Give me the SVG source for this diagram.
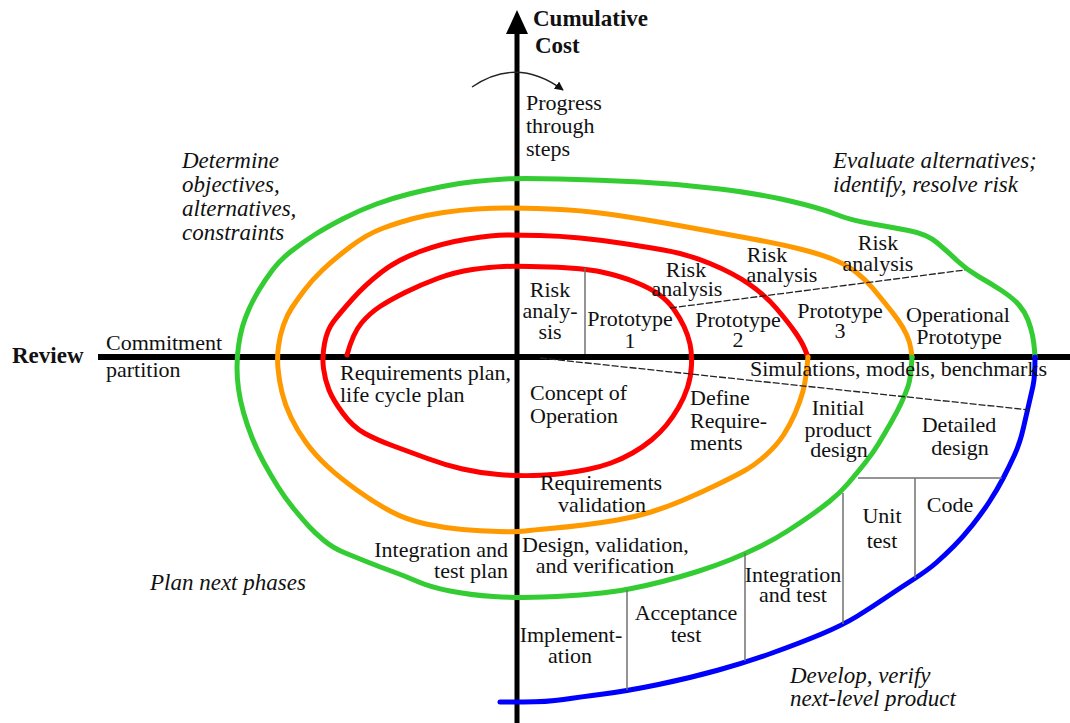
<svg xmlns="http://www.w3.org/2000/svg" width="1070" height="723" viewBox="0 0 1070 723">
  <style>
    text { font-family: "Liberation Serif", "Times New Roman", serif; font-size: 22px; fill: #111; }
    .b { font-weight: bold; font-size: 23px; }
    .i { font-style: italic; font-size: 23px; }
    .m { text-anchor: middle; }
    .e { text-anchor: end; }
    .lap { fill: none; stroke-width: 5; stroke-linejoin: round; stroke-linecap: round; }
    .div { fill: none; stroke: #707070; stroke-width: 1.5; }
    .dash { fill: none; stroke: #222; stroke-width: 1.3; stroke-dasharray: 7 2; }
  </style>
  <defs>
    <marker id="head" viewBox="0 0 10 10" refX="9" refY="5" markerWidth="9" markerHeight="9" orient="auto" markerUnits="userSpaceOnUse">
      <path d="M0,0 L10,5 L0,10 z" fill="#111"/>
    </marker>
  </defs>
  <rect width="1070" height="723" fill="#fff"/>

  <!-- axes -->
  <g id="axes">
    <line x1="98" y1="357" x2="1070" y2="357" stroke="#000" stroke-width="6"/>
    <line x1="517" y1="28" x2="517" y2="723" stroke="#000" stroke-width="5"/>
    <polygon points="517,10 506,34 528,34" fill="#000"/>
    <path d="M472,87 Q517,56 563,90" fill="none" stroke="#222" stroke-width="1.4" marker-end="url(#head)"/>
  </g>

  <!-- spiral laps (smoothed through midpoints) -->
  <g id="connectors">
    <path id="lap-red" class="lap" stroke="#ff0000" d="M347,355 Q353,333 361.5,323 Q370,313 380,306.5 Q390,300 405,292.5 Q420,285 437.5,278.5 Q455,272 472.5,269.5 Q490,267 503.5,266.5 Q517,266 550,267 Q583,268 601.5,272 Q620,276 635,282 Q650,288 659,294.5 Q668,301 674,309.5 Q680,318 684,326.5 Q688,335 690,344 Q692,353 691.5,365 Q691,377 687.5,387.5 Q684,398 678.5,407.5 Q673,417 666.5,425 Q660,433 651.5,440 Q643,447 632.5,453 Q622,459 611,463 Q600,467 587.5,469.5 Q575,472 562.5,473.5 Q550,475 533.5,475.5 Q517,476 498.5,474.5 Q480,473 462.5,469 Q445,465 427.5,458.5 Q410,452 393.5,446 Q377,440 365,433.5 Q353,427 343,413.5 Q333,400 329,390 Q325,380 323.5,368.5 Q322,357 324.5,343.5 Q327,330 333.5,321.5 Q340,313 352.5,299 Q365,285 381,272.5 Q397,260 420,251.5 Q443,243 468,239 Q493,235 506.5,235 Q520,235 540,235.5 Q560,236 580,238 Q600,240 620,243 Q640,246 663.5,250 Q687,254 710,263.5 Q733,273 749,284 Q765,295 776.5,308.5 Q788,322 795,332 Q802,342 805,349.5 L808,357"/>
    <path id="lap-orange" class="lap" stroke="#ff9900" d="M808,357 Q806,380 803,391 Q800,402 795,413.5 Q790,425 783.5,435 Q777,445 766,455 Q755,465 744,471 Q733,477 716.5,485 Q700,493 683.5,500 Q667,507 651,512 Q635,517 617.5,520 Q600,523 583.5,525 Q567,527 550,528.5 Q533,530 525,531 Q517,532 498.5,531.5 Q480,531 462.5,529.5 Q445,528 426,524 Q407,520 391,511.5 Q375,503 357.5,490.5 Q340,478 327.5,466.5 Q315,455 306,442.5 Q297,430 291,417.5 Q285,405 282,392.5 Q279,380 278,368.5 Q277,357 278.5,346 Q280,335 283.5,325 Q287,315 292,307.5 Q297,300 304.5,290 Q312,280 322.5,270 Q333,260 350,247 Q367,234 383.5,228 Q400,222 413.5,218.5 Q427,215 443.5,212.5 Q460,210 476.5,209 Q493,208 506.5,208 Q520,208 550,209 Q580,210 611.5,214.5 Q643,219 681.5,226 Q720,233 750,238.5 Q780,244 800,249 Q820,254 833.5,259.5 Q847,265 856.5,272.5 Q866,280 873,288.5 Q880,297 886.5,305 Q893,313 898,320 Q903,327 906.5,334.5 Q910,342 911,349.5 L912,357"/>
    <path id="lap-green" class="lap" stroke="#33cc33" d="M912,357 Q911,378 908,386.5 Q905,395 901,403.5 Q897,412 891,422.5 Q885,433 879,443 Q873,453 865,463 Q857,473 848.5,483 Q840,493 830,501 Q820,509 810,516 Q800,523 787.5,531 Q775,539 761,546 Q747,553 731,559.5 Q715,566 697.5,571.5 Q680,577 662.5,581.5 Q645,586 629,589 Q613,592 591.5,594 Q570,596 543.5,597 Q517,598 493.5,596.5 Q470,595 450,591 Q430,587 417.5,581.5 Q405,576 392.5,571.5 Q380,567 367.5,562 Q355,557 344,552.5 Q333,548 324,540.5 Q315,533 309,526.5 Q303,520 294,509 Q285,498 277.5,486 Q270,474 263.5,462 Q257,450 252,437.5 Q247,425 243.5,412.5 Q240,400 238.5,389 Q237,378 237,367.5 Q237,357 238.5,346 Q240,335 242.5,326.5 Q245,318 249,309 Q253,300 259,290 Q265,280 272.5,270 Q280,260 291.5,251 Q303,242 315,234.5 Q327,227 343.5,218.5 Q360,210 376.5,204 Q393,198 409,194 Q425,190 442.5,186.5 Q460,183 475,181.5 Q490,180 505,179 Q520,178 560,179 Q600,180 640,182 Q680,184 720,189 Q760,194 790,201 Q820,208 835,214 Q850,220 870,223.5 Q890,227 908.5,230.5 Q927,234 937.5,243 Q948,252 957.5,261 Q967,270 978.5,276.5 Q990,283 1001.5,290.5 Q1013,298 1019,305 Q1025,312 1028,320 Q1031,328 1032.5,335.5 Q1034,343 1034.5,350 L1035,357"/>
    <path id="lap-blue" class="lap" stroke="#0000ff" d="M1035,357 Q1035,377 1033,386 Q1031,395 1029,403.5 Q1027,412 1023.5,427.5 Q1020,443 1014.5,455 Q1009,467 1003,478.5 Q997,490 989.5,501.5 Q982,513 972.5,525 Q963,537 954,546 Q945,555 936.5,562.5 Q928,570 914,579 Q900,588 886,597.5 Q872,607 857.5,616 Q843,625 821.5,634 Q800,643 773.5,652.5 Q747,662 718.5,670 Q690,678 658.5,684.5 Q627,691 603.5,694 Q580,697 563.5,699.5 Q547,702 523.5,702 L500,702"/>
  </g>

  <!-- sector dividers -->
  <g id="dividers">
    <line class="div" x1="585" y1="268" x2="585" y2="354"/>
    <line class="dash" x1="670" y1="308" x2="965" y2="270"/>
    <line class="dash" x1="540" y1="358" x2="1030" y2="410"/>
    <line class="div" x1="858" y1="478" x2="1002" y2="478"/>
    <line class="div" x1="915" y1="478" x2="915" y2="578"/>
    <line class="div" x1="843" y1="493" x2="843" y2="624"/>
    <line class="div" x1="745" y1="553" x2="745" y2="661"/>
    <line class="div" x1="627" y1="590" x2="627" y2="690"/>
  </g>

  <!-- axis captions -->
  <g id="axis-labels">
    <text class="b" x="533" y="26">Cumulative</text>
    <text class="b" x="535" y="53">Cost</text>
    <text x="526" y="110">Progress</text>
    <text x="526" y="133">through</text>
    <text x="526" y="156">steps</text>
    <text class="b" x="12" y="363">Review</text>
    <text x="106" y="350">Commitment</text>
    <text x="106" y="377">partition</text>
  </g>

  <!-- quadrant headings -->
  <g id="quadrants">
    <text class="i" x="182" y="168">Determine</text>
    <text class="i" x="182" y="192">objectives,</text>
    <text class="i" x="182" y="216">alternatives,</text>
    <text class="i" x="182" y="240">constraints</text>
    <text class="i" x="833" y="168">Evaluate alternatives;</text>
    <text class="i" x="833" y="192">identify, resolve risk</text>
    <text class="i" x="150" y="590">Plan next phases</text>
    <text class="i" x="790" y="683">Develop, verify</text>
    <text class="i" x="790" y="706">next-level product</text>
  </g>

  <!-- risk / prototype sectors -->
  <g id="risk-sectors">
    <text class="m" x="550" y="297">Risk</text>
    <text class="m" x="550" y="318">analy-</text>
    <text class="m" x="550" y="339">sis</text>
    <text class="m" x="630" y="326">Prototype</text>
    <text class="m" x="630" y="348">1</text>
    <text class="m" x="686" y="277">Risk</text>
    <text class="m" x="687" y="296">analysis</text>
    <text class="m" x="738" y="327">Prototype</text>
    <text class="m" x="738" y="347">2</text>
    <text class="m" x="767" y="262">Risk</text>
    <text class="m" x="782" y="282">analysis</text>
    <text class="m" x="840" y="318">Prototype</text>
    <text class="m" x="840" y="338">3</text>
    <text class="m" x="878" y="250">Risk</text>
    <text class="m" x="878" y="271">analysis</text>
    <text class="m" x="958" y="322">Operational</text>
    <text class="m" x="959" y="344">Prototype</text>
  </g>

  <!-- development sectors -->
  <g id="dev-sectors">
    <text x="750" y="376">Simulations, models, benchmarks</text>
    <text x="340" y="380">Requirements plan,</text>
    <text x="340" y="402">life cycle plan</text>
    <text x="530" y="400">Concept of</text>
    <text x="530" y="423">Operation</text>
    <text x="690" y="405">Define</text>
    <text x="690" y="428">Require-</text>
    <text x="690" y="450">ments</text>
    <text class="m" x="601" y="490">Requirements</text>
    <text class="m" x="602" y="512">validation</text>
    <text class="m" x="838" y="415">Initial</text>
    <text class="m" x="838" y="437">product</text>
    <text class="m" x="839" y="457">design</text>
    <text class="m" x="959" y="432">Detailed</text>
    <text class="m" x="960" y="455">design</text>
    <text class="m" x="950" y="512">Code</text>
    <text class="m" x="882" y="523">Unit</text>
    <text class="m" x="882" y="548">test</text>
    <text class="e" x="508" y="557">Integration and</text>
    <text class="e" x="508" y="578">test plan</text>
    <text x="522" y="552">Design, validation,</text>
    <text class="m" x="605" y="573">and verification</text>
    <text class="m" x="793" y="582">Integration</text>
    <text class="m" x="793" y="602">and test</text>
    <text class="m" x="686" y="620">Acceptance</text>
    <text class="m" x="686" y="642">test</text>
    <text class="m" x="571" y="642">Implement-</text>
    <text class="m" x="570" y="663">ation</text>
  </g>
</svg>
